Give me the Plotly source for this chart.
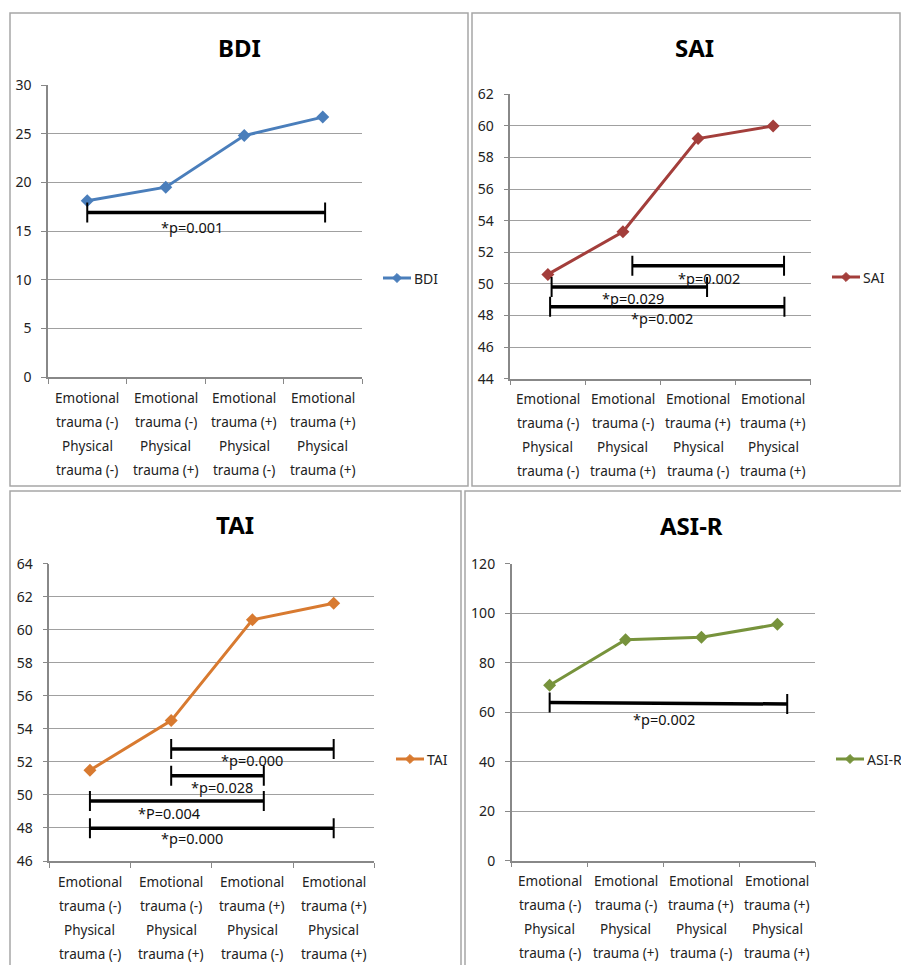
import plotly.graph_objects as go

W, H = 901, 965
FONT = "Noto Sans"
TEXT = "#222222"

# Group labels, one list of text lines per group
category_lines = [
    ["Emotional", "trauma (-)", "Physical", "trauma (-)"],
    ["Emotional", "trauma (-)", "Physical", "trauma (+)"],
    ["Emotional", "trauma (+)", "Physical", "trauma (-)"],
    ["Emotional", "trauma (+)", "Physical", "trauma (+)"],
]
group_index = [0, 1, 2, 3]

# Mean scores per group
bdi_values = [18.1, 19.5, 24.8, 26.7]
sai_values = [50.6, 53.3, 59.2, 60.0]
tai_values = [51.5, 54.5, 60.6, 61.6]
asir_values = [70.9, 89.3, 90.3, 95.5]

# Significant pairwise comparisons: (x start, x end, y start, y end, label, label x, label offset px)
bdi_tests = [(0.0, 3.03, 16.9, 16.9, "*p=0.001", 1.33, 14)]
sai_tests = [
    (1.125, 3.145, 51.15, 51.15, "*p=0.002", 2.15, 12),
    (0.05, 2.12, 49.8, 49.8, "*p=0.029", 1.13, 11),
    (0.03, 3.15, 48.55, 48.55, "*p=0.002", 1.52, 11),
]
tai_tests = [
    (1.0, 3.0, 52.78, 52.78, "*p=0.000", 1.99, 11),
    (1.0, 2.14, 51.16, 51.16, "*p=0.028", 1.62, 11),
    (0.0, 2.14, 49.63, 49.63, "*P=0.004", 0.97, 12),
    (0.0, 3.0, 47.98, 47.98, "*p=0.000", 1.26, 10),
]
asir_tests = [(0.0, 3.13, 63.9, 63.3, "*p=0.002", 1.5, 16)]


def px_x(p):
    return p / W


def px_y(p):
    return 1 - p / H


panels = [
    dict(name="BDI", values=bdi_values, color="#4a7ebb", yrange=(0, 30), dtick=5,
         box=(10, 13, 468, 486), plot=(48, 85, 362, 377), title=(239, 47),
         legend=(383, 278), tests=bdi_tests),
    dict(name="SAI", values=sai_values, color="#a33e3b", yrange=(44, 62), dtick=2,
         box=(472, 13, 900, 486), plot=(510.3, 94.3, 810.7, 378.7), title=(694, 47),
         legend=(832, 277), tests=sai_tests),
    dict(name="TAI", values=tai_values, color="#d87a30", yrange=(46, 64), dtick=2,
         box=(10, 491, 461, 990), plot=(49.3, 563.7, 374.3, 861), title=(235, 524),
         legend=(396, 759), tests=tai_tests),
    dict(name="ASI-R", values=asir_values, color="#77933c", yrange=(0, 120), dtick=20,
         box=(465, 491, 920, 990), plot=(511.7, 563.7, 815.3, 860.7), title=(691, 525),
         legend=(836, 759), tests=asir_tests),
]

fig = go.Figure()
shapes = []
annotations = []
layout_axes = {}

for i, p in enumerate(panels, start=1):
    sfx = "" if i == 1 else str(i)
    xa, ya = "x" + sfx, "y" + sfx
    x0p, y0p, x1p, y1p = p["plot"]
    ymin, ymax = p["yrange"]

    # panel frame
    bx0, by0, bx1, by1 = p["box"]
    shapes.append(dict(type="rect", xref="paper", yref="paper",
                       x0=px_x(bx0), x1=px_x(bx1), y0=px_y(by1), y1=px_y(by0),
                       line=dict(color="#a6a6a6", width=1.5), layer="below"))

    layout_axes["xaxis" + sfx] = dict(
        domain=[px_x(x0p), px_x(x1p)], anchor=ya, range=[-0.5, 3.5],
        tickvals=[-0.5, 0.5, 1.5, 2.5, 3.5], showticklabels=False,
        ticks="outside", ticklen=5, tickcolor="#888888", tickwidth=1,
        showgrid=False, zeroline=False, showline=True, linecolor="#888888",
        linewidth=1.5, fixedrange=True, automargin=False,
    )
    layout_axes["yaxis" + sfx] = dict(
        domain=[px_y(y1p), px_y(y0p)], anchor=xa, range=[ymin, ymax],
        dtick=p["dtick"], tick0=ymin, ticks="outside", ticklen=5,
        tickcolor="#888888", tickwidth=1, ticklabelstandoff=7,
        showgrid=True, gridcolor="#a0a0a0", gridwidth=1, zeroline=False,
        showline=True, linecolor="#888888", linewidth=1.5,
        tickfont=dict(family=FONT, size=14, color=TEXT), fixedrange=True,
        automargin=False,
    )

    fig.add_trace(go.Scatter(
        x=group_index, y=p["values"], name=p["name"], mode="lines+markers",
        xaxis=xa, yaxis=ya, cliponaxis=False, showlegend=False,
        line=dict(color=p["color"], width=3),
        marker=dict(symbol="diamond", size=10, color=p["color"]),
    ))

    # series key: line, diamond and name to the right of the plot
    lx, ly = p["legend"]
    shapes.append(dict(type="line", xref="paper", yref="paper",
                       x0=px_x(lx), x1=px_x(lx + 28), y0=px_y(ly), y1=px_y(ly),
                       line=dict(color=p["color"], width=3)))
    cx, r = lx + 14, 4.5
    shapes.append(dict(type="path", xref="paper", yref="paper",
                       path="M %f %f L %f %f L %f %f L %f %f Z" % (
                           px_x(cx), px_y(ly - r), px_x(cx + r), px_y(ly),
                           px_x(cx), px_y(ly + r), px_x(cx - r), px_y(ly)),
                       fillcolor=p["color"], line=dict(color=p["color"], width=1)))
    annotations.append(dict(text=p["name"], xref="paper", yref="paper",
                            x=px_x(lx + 29), y=px_y(ly), xanchor="left", yanchor="middle",
                            showarrow=False, font=dict(family=FONT, size=14, color=TEXT)))

    # title
    tx, ty = p["title"]
    annotations.append(dict(text="<b>%s</b>" % p["name"], xref="paper", yref="paper",
                            x=px_x(tx), y=px_y(ty), xanchor="center", yanchor="middle",
                            showarrow=False, font=dict(family=FONT, size=24, color="#000000")))

    # group labels under the axis
    for gi, lines in zip(group_index, category_lines):
        for li, line in enumerate(lines):
            annotations.append(dict(text=line, xref=xa, yref=ya + " domain",
                                    x=gi, y=0, xanchor="center", yanchor="middle",
                                    yshift=-(20.7 + 24 * li), showarrow=False,
                                    font=dict(family=FONT, size=13.5, color=TEXT)))

    # significance brackets
    cap = 10 * (ymax - ymin) / (y1p - y0p)
    for (a, b, ya0, ya1, label, lxp, dy) in p["tests"]:
        shapes.append(dict(type="line", xref=xa, yref=ya, x0=a, x1=b, y0=ya0, y1=ya1,
                           line=dict(color="#000000", width=3.5)))
        shapes.append(dict(type="line", xref=xa, yref=ya, x0=a, x1=a,
                           y0=ya0 - cap, y1=ya0 + cap, line=dict(color="#000000", width=2)))
        shapes.append(dict(type="line", xref=xa, yref=ya, x0=b, x1=b,
                           y0=ya1 - cap, y1=ya1 + cap, line=dict(color="#000000", width=2)))
        annotations.append(dict(text=label, xref=xa, yref=ya, x=lxp, y=(ya0 + ya1) / 2,
                                yshift=-dy, xanchor="center", yanchor="middle",
                                showarrow=False,
                                font=dict(family=FONT, size=14.5, color="#111111")))

fig.update_layout(
    width=W, height=H, margin=dict(l=0, r=0, t=0, b=0, pad=0, autoexpand=False),
    paper_bgcolor="#ffffff", plot_bgcolor="#ffffff", showlegend=False,
    shapes=shapes, annotations=annotations, **layout_axes,
)

fig.write_html("out.html", config={"displayModeBar": False})
